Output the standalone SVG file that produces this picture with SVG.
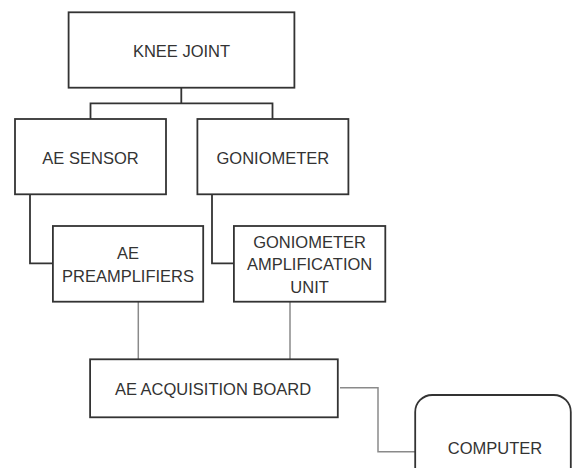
<svg xmlns="http://www.w3.org/2000/svg" width="572" height="468" viewBox="0 0 572 468">
<style>
.box{fill:#fff;stroke:#333;stroke-width:1.8}
.t{font-family:"Liberation Sans",Arial,sans-serif;font-size:16.5px;fill:#333;text-anchor:middle}
.c1{fill:none;stroke:#333;stroke-width:1.8}
.c2{fill:none;stroke:#8a8a8a;stroke-width:1.5}
</style>
<rect width="572" height="468" fill="#fff"/>
<g id="connectors">
<path class="c1" d="M181.3 87.7V103.3M90.5 119V103.3H272.5V119"/>
<path class="c1" d="M30 194.3V263.3H52.9"/>
<path class="c1" d="M212 194.3V263.3H233.9"/>
<path class="c2" d="M138.3 301.7V359.3"/>
<path class="c2" d="M290 301.7V359.3"/>
<path class="c2" d="M340 387.7H378V451.7H415.2"/>
</g>
<g id="knee">
<rect class="box" x="68.6" y="12.3" width="225.8" height="75.4"/>
<text class="t" x="181.5" y="56.5">KNEE JOINT</text>
</g>
<g id="aesensor">
<rect class="box" x="15" y="119" width="151" height="75.3"/>
<text class="t" x="90.5" y="163.8">AE SENSOR</text>
</g>
<g id="goniometer">
<rect class="box" x="197.4" y="119" width="151" height="75.3"/>
<text class="t" x="272.9" y="163.8">GONIOMETER</text>
</g>
<g id="preamp">
<rect class="box" x="52.9" y="226" width="150.3" height="75.7"/>
<text class="t" x="128" y="259.3">AE</text>
<text class="t" x="128" y="281.5">PREAMPLIFIERS</text>
</g>
<g id="gonioamp">
<rect class="box" x="233.9" y="226" width="151.4" height="75.7"/>
<text class="t" x="309.6" y="248">GONIOMETER</text>
<text class="t" x="309.6" y="270">AMPLIFICATION</text>
<text class="t" x="309.6" y="292.5">UNIT</text>
</g>
<g id="board">
<rect class="box" x="90.1" y="359.3" width="247.7" height="58"/>
<text class="t" x="213" y="394.8">AE ACQUISITION BOARD</text>
</g>
<g id="computer">
<rect class="box" x="415.2" y="395" width="155.6" height="110" rx="17"/>
<text class="t" x="495" y="453.8">COMPUTER</text>
</g>
</svg>
